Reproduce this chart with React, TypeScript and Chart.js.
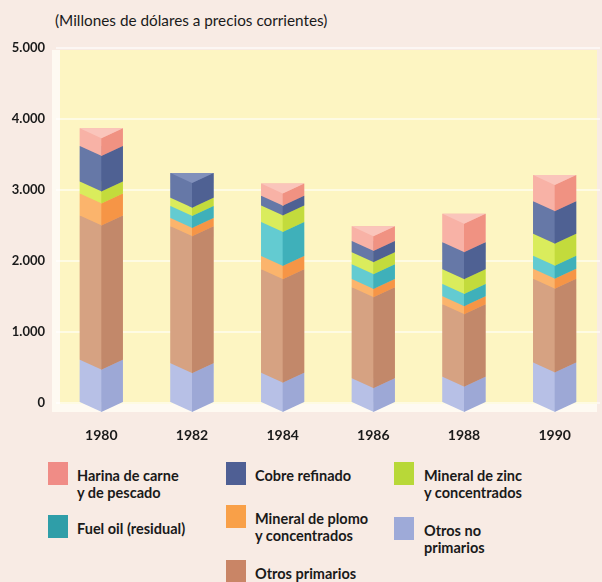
import React, { useEffect, useRef } from "react";
import { Chart, registerables } from "chart.js";

Chart.register(...registerables);

// ---- data (millones de dólares) ----
const years = ["1980", "1982", "1984", "1986", "1988", "1990"];
const otrosNoPrimarios = [610, 560, 425, 350, 370, 570];
const otrosPrimarios = [2030, 1930, 1460, 1280, 1020, 1180];
const mineralPlomo = [310, 115, 185, 115, 115, 140];
const fuelOil = [0, 170, 480, 210, 170, 185];
const mineralZinc = [170, 115, 230, 170, 210, 310];
const cobreRefinado = [500, 350, 140, 155, 380, 455];
const harinaPescado = [250, 0, 170, 210, 400, 370];
const yTickLabels = ["0", "1.000", "2.000", "3.000", "4.000", "5.000"];
const titleText = "(Millones de dólares a precios corrientes)";

// series in stacking order (bottom to top)
const seriesNames = [
  "Otros no primarios",
  "Otros primarios",
  "Mineral de plomo y concentrados",
  "Fuel oil (residual)",
  "Mineral de zinc y concentrados",
  "Cobre refinado",
  "Harina de carne y de pescado",
];
const seriesValues = [
  otrosNoPrimarios,
  otrosPrimarios,
  mineralPlomo,
  fuelOil,
  mineralZinc,
  cobreRefinado,
  harinaPescado,
];
// left face, right face, top face
const faceColors = [
  ["#b7c0e6", "#9da8d6", "#c9d0ef"],
  ["#d6a282", "#c2886a", "#e2b596"],
  ["#fbb46c", "#f69546", "#fcc48a"],
  ["#63cbd1", "#3fb0ba", "#85d8dc"],
  ["#daec5c", "#c3db3c", "#e6f383"],
  ["#6678a7", "#4f6193", "#8190bb"],
  ["#f8b2a6", "#f09282", "#fac5bb"],
];

const legendItems = [
  { lines: ["Harina de carne", "y de pescado"], color: "#f08c86", sx: 48, sy: 462, tx: 77 },
  { lines: ["Fuel oil (residual)"], color: "#2f9ea8", sx: 48, sy: 515, tx: 77 },
  { lines: ["Cobre refinado"], color: "#4f5f94", sx: 226, sy: 462, tx: 255 },
  { lines: ["Mineral de plomo", "y concentrados"], color: "#f9a048", sx: 226, sy: 505, tx: 255 },
  { lines: ["Otros primarios"], color: "#c98566", sx: 226, sy: 560, tx: 255 },
  { lines: ["Mineral de zinc", "y concentrados"], color: "#b8d838", sx: 394, sy: 462, tx: 424 },
  { lines: ["Otros no", "primarios"], color: "#9eaad8", sx: 394, sy: 517, tx: 424 },
];

const FONT = "Lato, 'Open Sans', sans-serif";

const panelPlugin = {
  id: "panel",
  beforeDraw(chart: any) {
    const { ctx, chartArea } = chart;
    ctx.save();
    ctx.fillStyle = "rgba(255,253,245,0.85)";
    ctx.fillRect(52, chartArea.top + 2, 597 - 52, chartArea.bottom + 9 - chartArea.top - 2);
    ctx.fillStyle = "#fdf5c2";
    ctx.fillRect(60, chartArea.top + 2, 597 - 60, chartArea.bottom + 1 - chartArea.top - 2);
    ctx.restore();
  },
};

const pillarPlugin = {
  id: "pillars",
  afterDatasetsDraw(chart: any) {
    const ctx = chart.ctx;
    const d = 10;
    const n = chart.data.labels.length;
    ctx.save();
    for (let i = 0; i < n; i++) {
      let top: any = null;
      chart.data.datasets.forEach((ds: any, di: number) => {
        const el = chart.getDatasetMeta(di).data[i];
        if (!el || !(ds.data[i] > 0)) return;
        const p = el.getProps(["x", "y", "base", "width"], true);
        const l = p.x - p.width / 2;
        const r = p.x + p.width / 2;
        const c = faceColors[di];
        ctx.fillStyle = c[0];
        ctx.beginPath();
        ctx.moveTo(l, p.y);
        ctx.lineTo(p.x + 0.5, p.y + d);
        ctx.lineTo(p.x + 0.5, p.base + d);
        ctx.lineTo(l, p.base);
        ctx.closePath();
        ctx.fill();
        ctx.fillStyle = c[1];
        ctx.beginPath();
        ctx.moveTo(p.x, p.y + d);
        ctx.lineTo(r, p.y);
        ctx.lineTo(r, p.base);
        ctx.lineTo(p.x, p.base + d);
        ctx.closePath();
        ctx.fill();
        top = { p, l, r, c };
      });
      if (top) {
        ctx.fillStyle = top.c[2];
        ctx.beginPath();
        ctx.moveTo(top.l, top.p.y);
        ctx.lineTo(top.r, top.p.y);
        ctx.lineTo(top.p.x, top.p.y + d);
        ctx.closePath();
        ctx.fill();
      }
    }
    ctx.restore();
  },
};

export default function App() {
  const ref = useRef<HTMLCanvasElement | null>(null);

  useEffect(() => {
    if (!ref.current) return;
    const chart = new Chart(ref.current, {
      type: "bar",
      data: {
        labels: years,
        datasets: seriesNames.map((name, i) => ({
          label: name,
          data: seriesValues[i],
          backgroundColor: faceColors[i][0],
          borderWidth: 0,
          categoryPercentage: 1,
          barPercentage: 0.475,
        })),
      },
      options: {
        animation: false,
        responsive: false,
        maintainAspectRatio: false,
        layout: { padding: { top: 48, left: 0, right: 2, bottom: 7 } },
        plugins: {
          legend: { display: false },
          title: { display: false },
          tooltip: { enabled: false },
        },
        scales: {
          x: {
            stacked: true,
            afterFit: (s: any) => {
              s.height = 40;
            },
            grid: { display: false, drawTicks: false },
            border: { display: false },
            ticks: {
              padding: 24,
              color: "#1a1a1a",
              font: { family: FONT, size: 14, weight: "bold" },
            },
          },
          y: {
            stacked: true,
            min: 0,
            max: 5000,
            afterFit: (s: any) => {
              s.width = 56;
            },
            grid: {
              color: "rgba(255,255,255,0.55)",
              lineWidth: 2,
              drawTicks: false,
            },
            border: { display: false },
            ticks: {
              stepSize: 1000,
              padding: 11,
              color: "#1a1a1a",
              font: { family: FONT, size: 13, weight: "bold" },
              callback: (v: any) => yTickLabels[Math.round(Number(v) / 1000)],
            },
          },
        },
      },
      plugins: [panelPlugin, pillarPlugin],
    });
    return () => chart.destroy();
  }, []);

  return (
    <div
      style={{
        position: "absolute",
        left: 0,
        top: 0,
        width: 602,
        height: 582,
        overflow: "hidden",
        background: "#f8ebe4",
        fontFamily: FONT,
        color: "#1a1a1a",
      }}
    >
      <div
        style={{
          position: "absolute",
          left: 55,
          top: 12,
          fontSize: 15.3,
          lineHeight: "16px",
          whiteSpace: "nowrap",
        }}
      >
        {titleText}
      </div>
      <canvas
        ref={ref}
        width={602}
        height={450}
        style={{ position: "absolute", left: 0, top: 0, width: 602, height: 450 }}
      />
      {legendItems.map((it, k) => (
        <React.Fragment key={k}>
          <div
            style={{
              position: "absolute",
              left: it.sx,
              top: it.sy,
              width: 20,
              height: 23,
              background: it.color,
            }}
          />
          <div
            style={{
              position: "absolute",
              left: it.tx,
              top: it.sy + 5,
              fontSize: 14.5,
              fontWeight: 700,
              lineHeight: "17px",
              whiteSpace: "nowrap",
            }}
          >
            {it.lines.map((ln, j) => (
              <div key={j}>{ln}</div>
            ))}
          </div>
        </React.Fragment>
      ))}
    </div>
  );
}
